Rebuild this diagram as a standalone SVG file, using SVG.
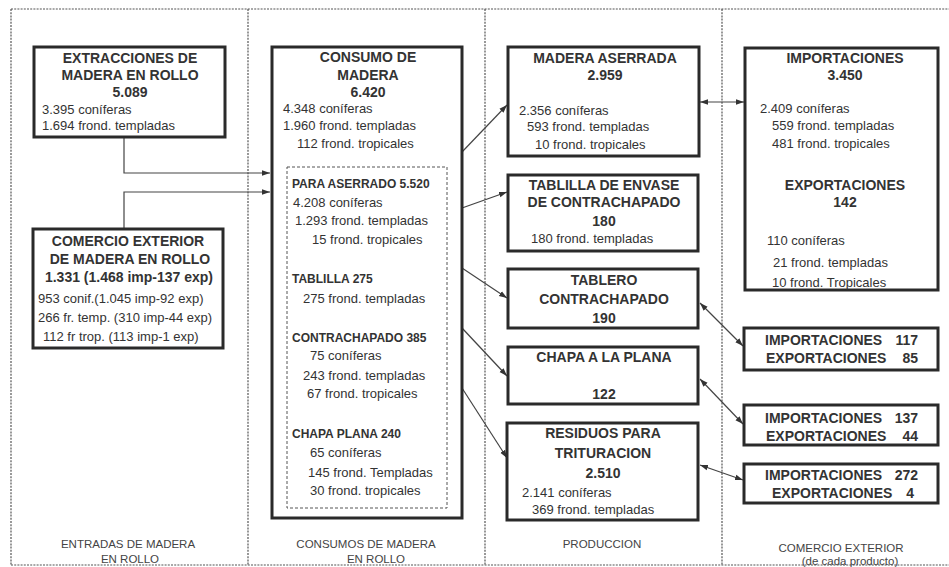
<svg xmlns="http://www.w3.org/2000/svg" width="949" height="567" viewBox="0 0 949 567">
<style>
.frame{fill:none;stroke:#555;stroke-width:1.2;stroke-dasharray:2,1.2}
.box{fill:#fff;stroke:#2a2a2a;stroke-width:3}
.inner{fill:none;stroke:#555;stroke-width:1;stroke-dasharray:3,2}
.con{fill:none;stroke:#444;stroke-width:1.2}
text{font-family:"Liberation Sans",Arial,sans-serif;fill:#333}
.h{font-size:14px;font-weight:bold;text-anchor:middle}
.hs{font-size:12px;font-weight:bold}
.r{font-size:13px}
.sm{font-size:14px;font-weight:bold}
.lab{font-size:11.5px;text-anchor:middle;fill:#444}
</style>
<defs>
<marker id="ah" viewBox="0 0 10 10" refX="10" refY="5" markerWidth="8" markerHeight="8" markerUnits="userSpaceOnUse" orient="auto-start-reverse">
<path d="M0,1.5 L10,5 L0,8.5 Z" fill="#333"/>
</marker>
</defs>
<g id="frames">
<line class="frame" x1="11" y1="9" x2="949" y2="9"/>
<line class="frame" x1="11" y1="565" x2="949" y2="565"/>
<line class="frame" x1="11" y1="9" x2="11" y2="565"/>
<line class="frame" x1="248" y1="9" x2="248" y2="565"/>
<line class="frame" x1="485" y1="9" x2="485" y2="565"/>
<line class="frame" x1="722" y1="9" x2="722" y2="565"/>
</g>
<g id="labels">
<text class="lab" x="128" y="548">ENTRADAS DE MADERA</text>
<text class="lab" x="130" y="563">EN ROLLO</text>
<text class="lab" x="366" y="548">CONSUMOS DE MADERA</text>
<text class="lab" x="376" y="563">EN ROLLO</text>
<text class="lab" x="602" y="548">PRODUCCION</text>
<text class="lab" x="841" y="552">COMERCIO EXTERIOR</text>
<text class="lab" x="850" y="565">(de cada producto)</text>
</g>
<g id="connectors">
<path class="con" d="M124,137 V173 H270" marker-end="url(#ah)"/>
<path class="con" d="M124,229 V192 H270" marker-end="url(#ah)"/>
<path class="con" d="M462,152 L507,105" marker-end="url(#ah)"/>
<path class="con" d="M462,208 L507,192" marker-end="url(#ah)"/>
<path class="con" d="M462,268 L507,298" marker-end="url(#ah)"/>
<path class="con" d="M462,328 L507,376" marker-end="url(#ah)"/>
<path class="con" d="M462,388 L507,458" marker-end="url(#ah)"/>
<path class="con" d="M700,102 L744,102" marker-start="url(#ah)" marker-end="url(#ah)"/>
<path class="con" d="M700,303 L743,346" marker-start="url(#ah)" marker-end="url(#ah)"/>
<path class="con" d="M700,379 L743,424" marker-start="url(#ah)" marker-end="url(#ah)"/>
<path class="con" d="M700,465 L743,480" marker-start="url(#ah)" marker-end="url(#ah)"/>
</g>
<g id="extracciones">
<rect class="box" x="34" y="47" width="191" height="90"/>
<text class="h" x="130" y="63">EXTRACCIONES DE</text>
<text class="h" x="130" y="80">MADERA EN ROLLO</text>
<text class="h" x="130" y="97">5.089</text>
<text class="r" x="42" y="114">3.395 coníferas</text>
<text class="r" x="42" y="130">1.694 frond. templadas</text>
</g>
<g id="comercio-rollo">
<rect class="box" x="33" y="229" width="190" height="119"/>
<text class="h" x="128" y="246">COMERCIO EXTERIOR</text>
<text class="h" x="130" y="264">DE MADERA EN ROLLO</text>
<text class="h" x="129" y="282">1.331 (1.468 imp-137 exp)</text>
<text class="r" x="38" y="303">953 conif.(1.045 imp-92 exp)</text>
<text class="r" x="38" y="322">266 fr. temp. (310 imp-44 exp)</text>
<text class="r" x="43" y="341">112 fr trop. (113 imp-1 exp)</text>
</g>
<g id="consumo">
<rect class="box" x="272" y="47" width="190" height="471"/>
<text class="h" x="368" y="62">CONSUMO DE</text>
<text class="h" x="368" y="80">MADERA</text>
<text class="h" x="368" y="97">6.420</text>
<text class="r" x="283" y="113">4.348 coníferas</text>
<text class="r" x="283" y="130">1.960 frond. templadas</text>
<text class="r" x="297" y="148">112 frond. tropicales</text>
<rect class="inner" x="287" y="167" width="160" height="341"/>
<text class="hs" x="292" y="188">PARA ASERRADO 5.520</text>
<text class="r" x="293" y="207">4.208 coníferas</text>
<text class="r" x="295" y="225">1.293 frond. templadas</text>
<text class="r" x="312" y="244">15 frond. tropicales</text>
<text class="hs" x="292" y="283">TABLILLA  275</text>
<text class="r" x="303" y="303">275 frond. templadas</text>
<text class="hs" x="292" y="342">CONTRACHAPADO  385</text>
<text class="r" x="310" y="360">75 coníferas</text>
<text class="r" x="303" y="380">243 frond. templadas</text>
<text class="r" x="307" y="398">67 frond. tropicales</text>
<text class="hs" x="292" y="438">CHAPA PLANA  240</text>
<text class="r" x="310" y="457">65 coníferas</text>
<text class="r" x="308" y="477">145 frond. Templadas</text>
<text class="r" x="310" y="495">30 frond. tropicales</text>
</g>
<g id="madera-aserrada">
<rect class="box" x="508" y="47" width="191" height="109"/>
<text class="h" x="605" y="63">MADERA ASERRADA</text>
<text class="h" x="605" y="80">2.959</text>
<text class="r" x="519" y="115">2.356 coníferas</text>
<text class="r" x="527" y="131">593 frond. templadas</text>
<text class="r" x="535" y="149">10 frond. tropicales</text>
</g>
<g id="tablilla">
<rect class="box" x="508" y="175" width="190" height="76"/>
<text class="h" x="604" y="190">TABLILLA DE ENVASE</text>
<text class="h" x="604" y="207">DE CONTRACHAPADO</text>
<text class="h" x="604" y="226">180</text>
<text class="r" x="531" y="243">180 frond. templadas</text>
</g>
<g id="tablero">
<rect class="box" x="508" y="269" width="190" height="59"/>
<text class="h" x="604" y="285">TABLERO</text>
<text class="h" x="604" y="304">CONTRACHAPADO</text>
<text class="h" x="604" y="323">190</text>
</g>
<g id="chapa">
<rect class="box" x="508" y="347" width="190" height="57"/>
<text class="h" x="604" y="362">CHAPA A LA PLANA</text>
<text class="h" x="604" y="399">122</text>
</g>
<g id="residuos">
<rect class="box" x="507" y="423" width="191" height="97"/>
<text class="h" x="603" y="438">RESIDUOS PARA</text>
<text class="h" x="603" y="458">TRITURACION</text>
<text class="h" x="603" y="478">2.510</text>
<text class="r" x="522" y="497">2.141 coníferas</text>
<text class="r" x="532" y="514">369 frond. templadas</text>
</g>
<g id="comercio-total">
<rect class="box" x="745" y="48" width="193" height="242"/>
<text class="h" x="845" y="63">IMPORTACIONES</text>
<text class="h" x="845" y="80">3.450</text>
<text class="r" x="760" y="113">2.409 coníferas</text>
<text class="r" x="772" y="130">559 frond. templadas</text>
<text class="r" x="772" y="148">481 frond. tropicales</text>
<text class="h" x="845" y="190">EXPORTACIONES</text>
<text class="h" x="845" y="207">142</text>
<text class="r" x="767" y="245">110 coníferas</text>
<text class="r" x="773" y="267">21 frond. templadas</text>
<text class="r" x="772" y="287">10 frond. Tropicales</text>
</g>
<g id="comercio-tablero">
<rect class="box" x="744" y="328" width="194" height="42"/>
<text class="sm" x="765" y="345">IMPORTACIONES <tspan x="918" text-anchor="end">117</tspan></text>
<text class="sm" x="766" y="363">EXPORTACIONES <tspan x="918" text-anchor="end">85</tspan></text>
</g>
<g id="comercio-chapa">
<rect class="box" x="744" y="405" width="194" height="40"/>
<text class="sm" x="765" y="423">IMPORTACIONES <tspan x="918" text-anchor="end">137</tspan></text>
<text class="sm" x="766" y="441">EXPORTACIONES <tspan x="918" text-anchor="end">44</tspan></text>
</g>
<g id="comercio-residuos">
<rect class="box" x="744" y="464" width="194" height="39"/>
<text class="sm" x="765" y="480">IMPORTACIONES <tspan x="918" text-anchor="end">272</tspan></text>
<text class="sm" x="772" y="498">EXPORTACIONES <tspan x="914" text-anchor="end">4</tspan></text>
</g>
</svg>
